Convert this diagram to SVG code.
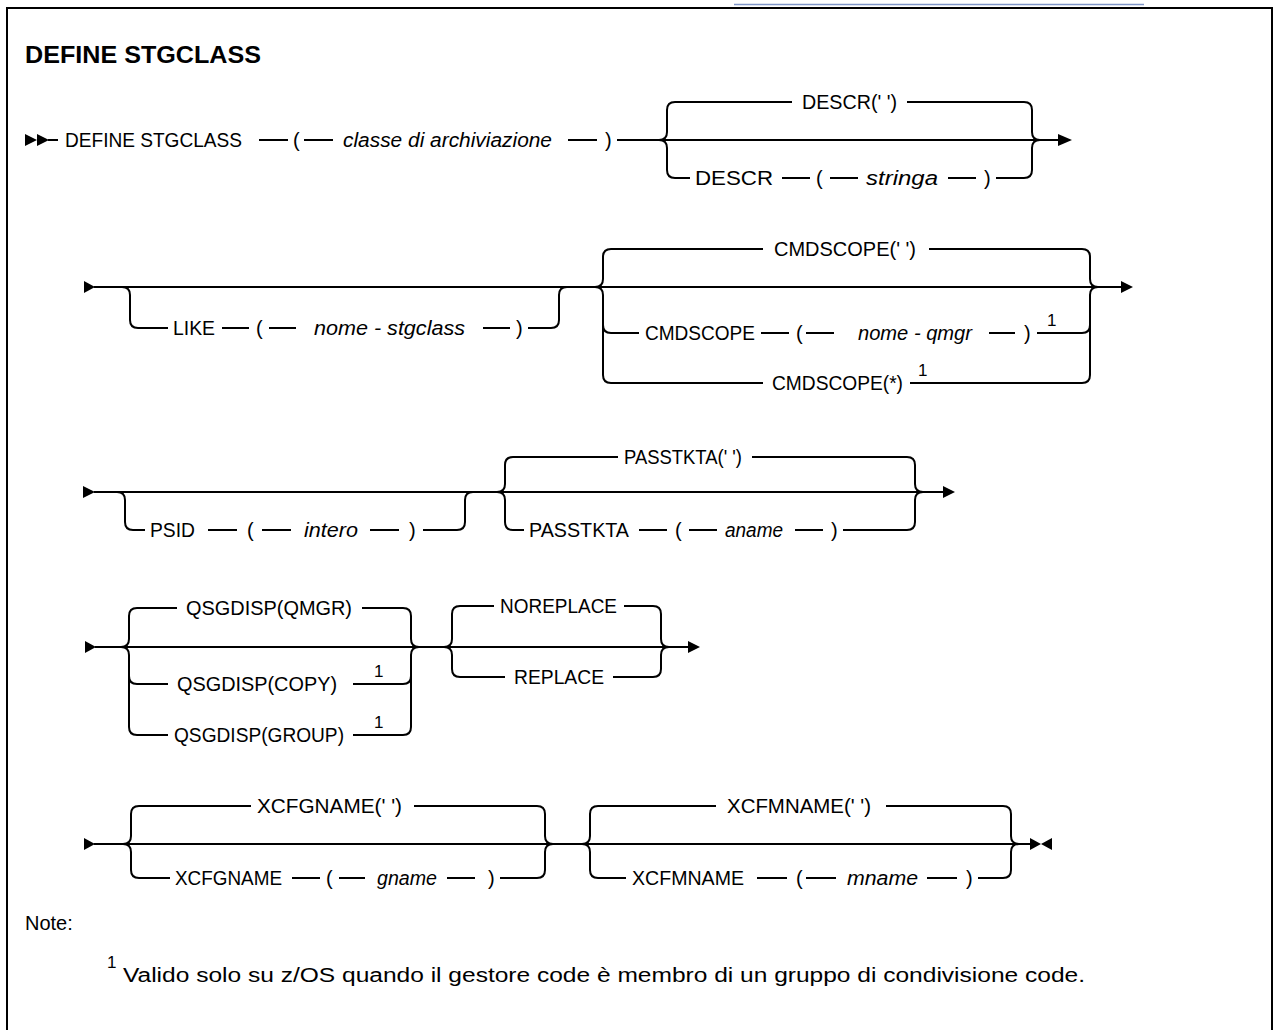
<svg xmlns="http://www.w3.org/2000/svg" width="1274" height="1030" viewBox="0 0 1274 1030">
<style>
.k{font-family:"Liberation Sans",Arial,sans-serif;font-size:20px;fill:#000}
.v{font-family:"Liberation Sans",Arial,sans-serif;font-size:20px;font-style:italic;fill:#000}
.s{font-family:"Liberation Sans",Arial,sans-serif;font-size:17px;fill:#000}
.t{font-family:"Liberation Sans",Arial,sans-serif;font-size:23px;font-weight:bold;fill:#000}
.n{font-family:"Liberation Sans",Arial,sans-serif;font-size:20px;fill:#000}
.c path,.c line{fill:none;stroke:#000;stroke-width:2}
.c polygon{fill:#000;stroke:none}
</style>
<rect width="1274" height="1030" fill="#fff"/>
<line x1="734" y1="4.5" x2="1144" y2="4.5" stroke="#7f96c8" stroke-width="1.5"/>
<rect x="7" y="8" width="1265" height="1040" fill="none" stroke="#000" stroke-width="2"/>
<text class="t" x="25" y="63" textLength="236" lengthAdjust="spacingAndGlyphs">DEFINE STGCLASS</text>

<g id="connectors" class="c">
<!-- row 1 -->
<polygon points="25,134 37,140 25,146"/>
<polygon points="37,134 49,140 37,146"/>
<line x1="48" y1="140" x2="58" y2="140"/>
<line x1="259" y1="140" x2="288" y2="140"/>
<line x1="304" y1="140" x2="333" y2="140"/>
<line x1="568" y1="140" x2="597" y2="140"/>
<path d="M617,140 H1059"/>
<polygon points="1058,134 1072,140 1058,146"/>
<path d="M659,140 Q667,140 667,132 V110 Q667,102 675,102 H792"/>
<path d="M907,102 H1024 Q1032,102 1032,110 V132 Q1032,140 1040,140"/>
<path d="M659,140 Q667,140 667,148 V170 Q667,178 675,178 H690"/>
<line x1="782" y1="178" x2="810" y2="178"/>
<line x1="830" y1="178" x2="858" y2="178"/>
<line x1="948" y1="178" x2="976" y2="178"/>
<path d="M996,178 H1024 Q1032,178 1032,170 V148 Q1032,140 1040,140"/>
<!-- row 2 -->
<polygon points="84,281 95,287 84,293"/>
<path d="M94,287 H1122"/>
<polygon points="1121,281 1133,287 1121,293"/>
<path d="M122,287 Q130,287 130,295 V320 Q130,328 138,328 H168"/>
<line x1="222" y1="328" x2="249" y2="328"/>
<line x1="269" y1="328" x2="296" y2="328"/>
<line x1="483" y1="328" x2="510" y2="328"/>
<path d="M528,328 H551 Q559,328 559,320 V295 Q559,287 567,287"/>
<path d="M595,287 Q603,287 603,279 V257 Q603,249 611,249 H763"/>
<path d="M929,249 H1082 Q1090,249 1090,257 V279 Q1090,287 1098,287"/>
<path d="M595,287 Q603,287 603,295 V325 Q603,333 611,333 H639"/>
<line x1="761" y1="333" x2="789" y2="333"/>
<line x1="806" y1="333" x2="834" y2="333"/>
<line x1="989" y1="333" x2="1015" y2="333"/>
<path d="M1037,333 H1082 Q1090,333 1090,325 V295 Q1090,287 1098,287"/>
<path d="M603,325 V375 Q603,383 611,383 H763"/>
<path d="M910,383 H1082 Q1090,383 1090,375 V325"/>
<!-- row 3 -->
<polygon points="83,486 95,492 83,498"/>
<path d="M94,492 H944"/>
<polygon points="943,486 955,492 943,498"/>
<path d="M117,492 Q125,492 125,500 V522 Q125,530 133,530 H145"/>
<line x1="208" y1="530" x2="237" y2="530"/>
<line x1="262" y1="530" x2="291" y2="530"/>
<line x1="370" y1="530" x2="399" y2="530"/>
<path d="M423,530 H457 Q465,530 465,522 V500 Q465,492 473,492"/>
<path d="M497,492 Q505,492 505,484 V465 Q505,457 513,457 H618"/>
<path d="M752,457 H907 Q915,457 915,465 V484 Q915,492 923,492"/>
<path d="M497,492 Q505,492 505,500 V522 Q505,530 513,530 H524"/>
<line x1="639" y1="530" x2="667" y2="530"/>
<line x1="689" y1="530" x2="717" y2="530"/>
<line x1="795" y1="530" x2="823" y2="530"/>
<path d="M843,530 H907 Q915,530 915,522 V500 Q915,492 923,492"/>
<!-- row 4 -->
<polygon points="85,641 96,647 85,653"/>
<path d="M95,647 H689"/>
<polygon points="688,641 700,647 688,653"/>
<path d="M121,647 Q129,647 129,639 V616 Q129,608 137,608 H177"/>
<path d="M362,608 H403 Q411,608 411,616 V639 Q411,647 419,647"/>
<path d="M121,647 Q129,647 129,655 V676 Q129,684 137,684 H168"/>
<path d="M353,684 H403 Q411,684 411,676 V655 Q411,647 419,647"/>
<path d="M129,676 V727 Q129,735 137,735 H168"/>
<path d="M353,735 H403 Q411,735 411,727 V676"/>
<path d="M444,647 Q452,647 452,639 V614 Q452,606 460,606 H494"/>
<path d="M624,606 H653 Q661,606 661,614 V639 Q661,647 669,647"/>
<path d="M444,647 Q452,647 452,655 V669 Q452,677 460,677 H505"/>
<path d="M613,677 H653 Q661,677 661,669 V655 Q661,647 669,647"/>
<!-- row 5 -->
<polygon points="84,838 95,844 84,850"/>
<path d="M94,844 H1031"/>
<polygon points="1030,838 1041,844 1030,850"/>
<polygon points="1052,838 1041,844 1052,850"/>
<path d="M123,844 Q131,844 131,836 V814 Q131,806 139,806 H251"/>
<path d="M414,806 H537 Q545,806 545,814 V836 Q545,844 553,844"/>
<path d="M123,844 Q131,844 131,852 V870 Q131,878 139,878 H170"/>
<line x1="292" y1="878" x2="320" y2="878"/>
<line x1="339" y1="878" x2="365" y2="878"/>
<line x1="447" y1="878" x2="475" y2="878"/>
<path d="M500,878 H537 Q545,878 545,870 V852 Q545,844 553,844"/>
<path d="M582,844 Q590,844 590,836 V814 Q590,806 598,806 H716"/>
<path d="M886,806 H1003 Q1011,806 1011,814 V836 Q1011,844 1019,844"/>
<path d="M582,844 Q590,844 590,852 V870 Q590,878 598,878 H626"/>
<line x1="757" y1="878" x2="787" y2="878"/>
<line x1="806" y1="878" x2="836" y2="878"/>
<line x1="927" y1="878" x2="957" y2="878"/>
<path d="M978,878 H1003 Q1011,878 1011,870 V852 Q1011,844 1019,844"/>
</g>

<g id="n-define"><text class="k" x="65" y="147" textLength="177" lengthAdjust="spacingAndGlyphs">DEFINE STGCLASS</text><text class="k" x="293" y="147">(</text><text class="v" x="343" y="147" textLength="209" lengthAdjust="spacingAndGlyphs">classe di archiviazione</text><text class="k" x="605" y="147">)</text></g>
<g id="n-descr-default"><text class="k" x="802" y="109" textLength="95" lengthAdjust="spacingAndGlyphs">DESCR(' ')</text></g>
<g id="n-descr"><text class="k" x="695" y="185" textLength="78" lengthAdjust="spacingAndGlyphs">DESCR</text><text class="k" x="816" y="185">(</text><text class="v" x="866" y="185" textLength="72" lengthAdjust="spacingAndGlyphs">stringa</text><text class="k" x="984" y="185">)</text></g>
<g id="n-like"><text class="k" x="173" y="335" textLength="42" lengthAdjust="spacingAndGlyphs">LIKE</text><text class="k" x="256" y="335">(</text><text class="v" x="314" y="335" textLength="151" lengthAdjust="spacingAndGlyphs">nome - stgclass</text><text class="k" x="516" y="335">)</text></g>
<g id="n-cmdscope-default"><text class="k" x="774" y="256" textLength="142" lengthAdjust="spacingAndGlyphs">CMDSCOPE(' ')</text></g>
<g id="n-cmdscope"><text class="k" x="645" y="340" textLength="110" lengthAdjust="spacingAndGlyphs">CMDSCOPE</text><text class="k" x="796" y="340">(</text><text class="v" x="858" y="340" textLength="114" lengthAdjust="spacingAndGlyphs">nome - qmgr</text><text class="k" x="1024" y="340">)</text><text class="s" x="1047" y="326">1</text></g>
<g id="n-cmdscope-all"><text class="k" x="772" y="390" textLength="131" lengthAdjust="spacingAndGlyphs">CMDSCOPE(*)</text><text class="s" x="918" y="376">1</text></g>
<g id="n-psid"><text class="k" x="150" y="537" textLength="45" lengthAdjust="spacingAndGlyphs">PSID</text><text class="k" x="247" y="537">(</text><text class="v" x="304" y="537" textLength="54" lengthAdjust="spacingAndGlyphs">intero</text><text class="k" x="409" y="537">)</text></g>
<g id="n-passtkta-default"><text class="k" x="624" y="464" textLength="118" lengthAdjust="spacingAndGlyphs">PASSTKTA(' ')</text></g>
<g id="n-passtkta"><text class="k" x="529" y="537" textLength="100" lengthAdjust="spacingAndGlyphs">PASSTKTA</text><text class="k" x="675" y="537">(</text><text class="v" x="725" y="537" textLength="58" lengthAdjust="spacingAndGlyphs">aname</text><text class="k" x="831" y="537">)</text></g>
<g id="n-qsg-qmgr"><text class="k" x="186" y="615" textLength="166" lengthAdjust="spacingAndGlyphs">QSGDISP(QMGR)</text></g>
<g id="n-qsg-copy"><text class="k" x="177" y="691" textLength="160" lengthAdjust="spacingAndGlyphs">QSGDISP(COPY)</text><text class="s" x="374" y="677">1</text></g>
<g id="n-qsg-group"><text class="k" x="174" y="742" textLength="170" lengthAdjust="spacingAndGlyphs">QSGDISP(GROUP)</text><text class="s" x="374" y="728">1</text></g>
<g id="n-noreplace"><text class="k" x="500" y="613" textLength="117" lengthAdjust="spacingAndGlyphs">NOREPLACE</text></g>
<g id="n-replace"><text class="k" x="514" y="684" textLength="90" lengthAdjust="spacingAndGlyphs">REPLACE</text></g>
<g id="n-xcfg-default"><text class="k" x="257" y="813" textLength="145" lengthAdjust="spacingAndGlyphs">XCFGNAME(' ')</text></g>
<g id="n-xcfg"><text class="k" x="175" y="885" textLength="107" lengthAdjust="spacingAndGlyphs">XCFGNAME</text><text class="k" x="326" y="885">(</text><text class="v" x="377" y="885" textLength="60" lengthAdjust="spacingAndGlyphs">gname</text><text class="k" x="488" y="885">)</text></g>
<g id="n-xcfm-default"><text class="k" x="727" y="813" textLength="144" lengthAdjust="spacingAndGlyphs">XCFMNAME(' ')</text></g>
<g id="n-xcfm"><text class="k" x="632" y="885" textLength="112" lengthAdjust="spacingAndGlyphs">XCFMNAME</text><text class="k" x="796" y="885">(</text><text class="v" x="847" y="885" textLength="71" lengthAdjust="spacingAndGlyphs">mname</text><text class="k" x="966" y="885">)</text></g>
<g id="notes"><text class="n" x="25" y="930">Note:</text><text class="s" x="107" y="968">1</text><text class="n" x="123" y="982" textLength="962" lengthAdjust="spacingAndGlyphs">Valido solo su z/OS quando il gestore code è membro di un gruppo di condivisione code.</text></g>
</svg>
